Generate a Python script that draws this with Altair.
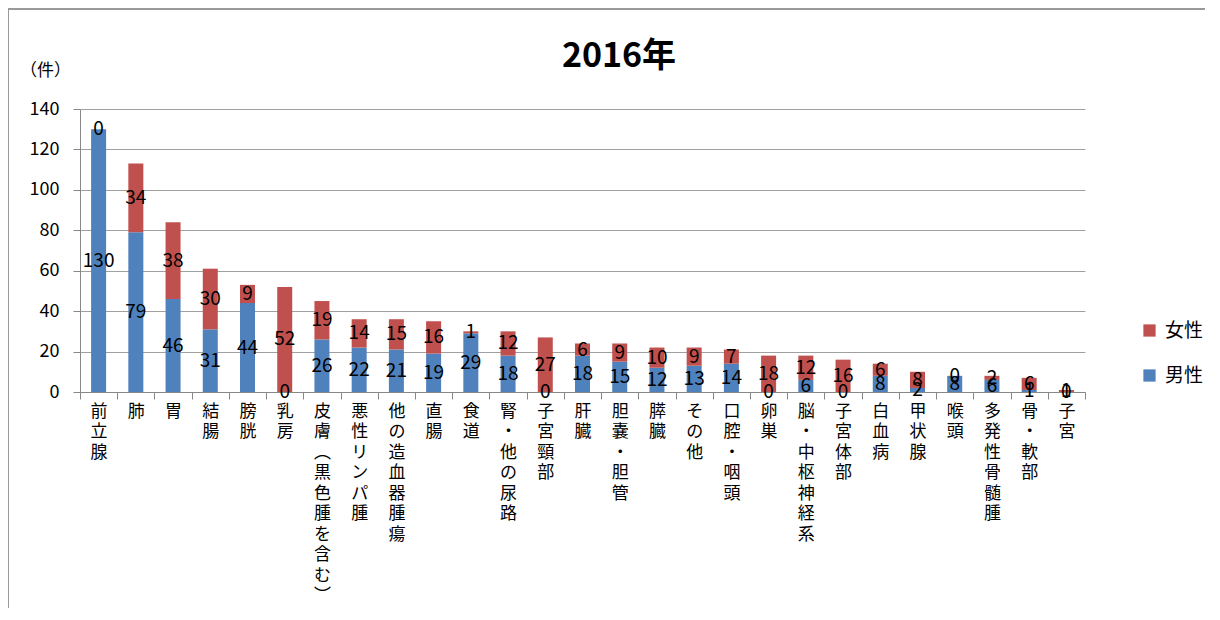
import altair as alt
import pandas as pd

categories = ["前立腺", "肺", "胃", "結腸", "膀胱", "乳房", "皮膚︵黒色腫を含む︶", "悪性リンパ腫",
              "他の造血器腫瘍", "直腸", "食道", "腎・他の尿路", "子宮頸部", "肝臓", "胆嚢・胆管",
              "膵臓", "その他", "口腔・咽頭", "卵巣", "脳・中枢神経系", "子宮体部", "白血病",
              "甲状腺", "喉頭", "多発性骨髄腫", "骨・軟部", "子宮"]
male = [130, 79, 46, 31, 44, 0, 26, 22, 21, 19, 29, 18, 0, 18, 15, 12, 13, 14, 0, 6, 0, 8, 2, 8, 6, 1, 0]
female = [0, 34, 38, 30, 9, 52, 19, 14, 15, 16, 1, 12, 27, 6, 9, 10, 9, 7, 18, 12, 16, 6, 8, 0, 2, 6, 1]
sexes = ["女性", "男性"]
colors = ["#C0504D", "#4F81BD"]
y_ticks = [0, 20, 40, 60, 80, 100, 120, 140]
title_text = "2016年"

rows = []
for c, m, f in zip(categories, male, female):
    rows.append({"cat": c, "sex": "男性", "value": m, "ord": 0})
    rows.append({"cat": c, "sex": "女性", "value": f, "ord": 1})
df = pd.DataFrame(rows)

FONT = "Noto Sans CJK JP"

x_enc = alt.X(
    "cat:N", sort=categories,
    scale=alt.Scale(paddingInner=0, paddingOuter=0),
    axis=alt.Axis(title=None, labelAngle=0, labelExpr="split(datum.label, '')",
                  labelLineHeight=20.5, labelFontSize=17, labelBaseline="top",
                  labelAlign="center", tickBand="extent", tickSize=7, labelPadding=4,
                  domainColor="#888888", tickColor="#888888", grid=False,
                  labelFont=FONT, labelColor="black", labelLimit=0),
)

y_scale = alt.Scale(domain=[0, 140], nice=False)
y_axis = alt.Axis(values=y_ticks, title="（件）", titleAngle=0, titleX=-35, titleY=-30,
                  titleAlign="center", titleBaseline="bottom", titleFontSize=17,
                  titleFontWeight="normal", titleFont=FONT, titleColor="black",
                  labelFontSize=18, labelFont=FONT, labelColor="black", labelPadding=14,
                  tickSize=7, tickColor="#888888", domainColor="#888888",
                  gridColor="#a0a0a0", grid=True)

bars = alt.Chart(df).mark_bar(size=15).encode(
    x=x_enc,
    y=alt.Y("value:Q", stack="zero", scale=y_scale, axis=y_axis),
    color=alt.Color("sex:N", scale=alt.Scale(domain=sexes, range=colors),
                    legend=alt.Legend(title=None, orient="none", legendX=1060, legendY=212,
                                      symbolType="square", symbolSize=150,
                                      labelFontSize=19, labelFont=FONT, labelColor="black",
                                      rowPadding=25, labelOffset=6, symbolStrokeWidth=0,
                                      padding=0, labelLimit=0)),
    order=alt.Order("ord:Q", sort="ascending"),
)

labels = alt.Chart(df).transform_stack(
    stack="value", groupby=["cat"], as_=["v0", "v1"],
    sort=[alt.SortField("ord", order="ascending")],
).transform_calculate(mid="(datum.v0 + datum.v1) / 2").mark_text(
    fontSize=19, color="black", baseline="middle", font=FONT
).encode(
    x=x_enc,
    y=alt.Y("mid:Q", scale=y_scale, axis=y_axis),
    text="value:Q",
)

border = alt.Chart(pd.DataFrame({"a": [0]})).mark_rect(
    filled=False, stroke="#999999", strokeWidth=2
).encode(x=alt.value(-72), x2=alt.value(3000), y=alt.value(-100), y2=alt.value(3000))

title = alt.Chart(pd.DataFrame({"t": [title_text]})).mark_text(
    fontSize=34, font=FONT, fontWeight="bold", color="black", align="center", baseline="middle"
).encode(text="t:N", x=alt.value(539), y=alt.value(-52))

chart = alt.layer(border, bars, labels, title).properties(
    width=1005, height=283,
    autosize=alt.AutoSizeParams(type="none"),
    padding={"left": 72, "top": 101, "right": 120, "bottom": 216},
).configure_view(stroke=None)

chart.save("out.html", embed_options={"renderer": "svg", "actions": False})
